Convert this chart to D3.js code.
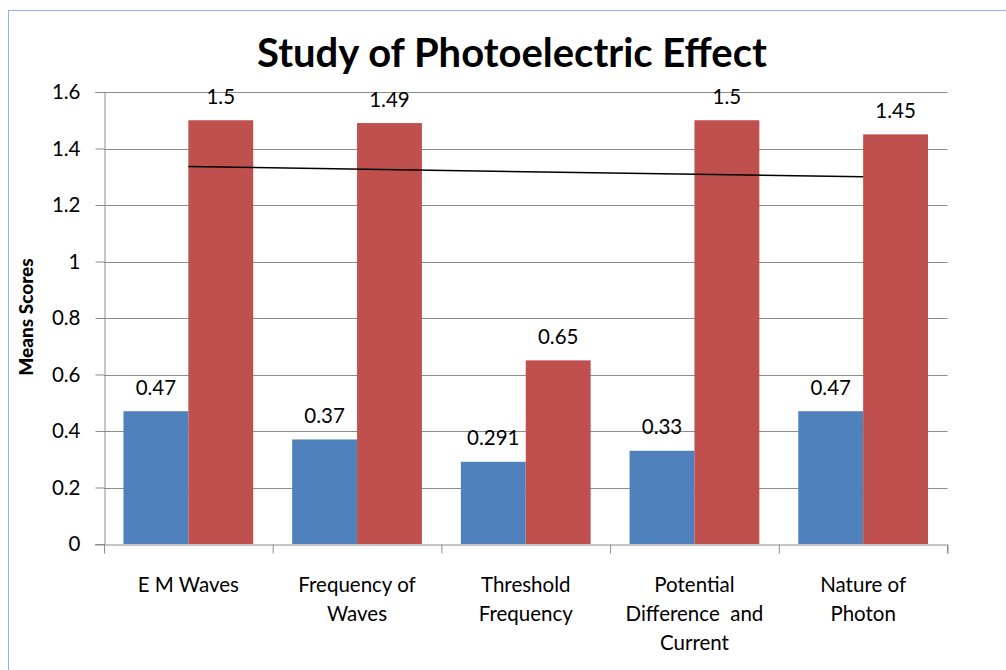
<!DOCTYPE html>
<html>
<head>
<meta charset="utf-8">
<script src="https://cdn.jsdelivr.net/npm/d3@7"></script>
<style>
  html, body { margin: 0; padding: 0; background: #fff; }
  svg { display: block; }
  text { font-family: Lato, "Open Sans", sans-serif; fill: #000; }
</style>
</head>
<body>
<svg id="chart" width="1006" height="670"></svg>
<script>
const title = "Study of Photoelectric Effect";
const yLabel = "Means Scores";
const categories = ["E M Waves", "Frequency of Waves", "Threshold Frequency", "Potential Difference and Current", "Nature of Photon"];
const categoryLines = [["E M Waves"], ["Frequency of", "Waves"], ["Threshold", "Frequency"], ["Potential", "Difference  and", "Current"], ["Nature of", "Photon"]];
const seriesNames = ["Blue", "Red"];
const blueValues = [0.47, 0.37, 0.291, 0.33, 0.47];
const redValues = [1.5, 1.49, 0.65, 1.5, 1.45];
const blueLabels = ["0.47", "0.37", "0.291", "0.33", "0.47"];
const redLabels = ["1.5", "1.49", "0.65", "1.5", "1.45"];
const yTicks = [0, 0.2, 0.4, 0.6, 0.8, 1, 1.2, 1.4, 1.6];
const yTickLabels = ["0", "0.2", "0.4", "0.6", "0.8", "1", "1.2", "1.4", "1.6"];

const colors = { Blue: "#4F81BD", Red: "#C0504D" };
const gridColor = "#8c8c8c";
const fs = 20.5;

const svg = d3.select("#chart");

// outer border
svg.append("rect")
  .attr("x", 8.5).attr("y", 10.5).attr("width", 1100).attr("height", 1000)
  .attr("fill", "none").attr("stroke", "#8EB4E3").attr("stroke-width", 1);

const plot = { left: 104, right: 947.5, top: 92, bottom: 544 };

const y = d3.scaleLinear().domain([0, 1.6]).range([plot.bottom, plot.top]);
const x0 = d3.scaleBand().domain(categories).range([plot.left, plot.right]);
const x1 = d3.scaleBand().domain(seriesNames).range([0, x0.bandwidth()]).paddingOuter(0.3).paddingInner(0);
const xb = d3.scaleLinear().domain([0, categories.length]).range([plot.left, plot.right]);

// gridlines
svg.append("g").selectAll("line")
  .data(yTicks.filter(d => d > 0))
  .join("line")
  .attr("x1", plot.left).attr("x2", plot.right)
  .attr("y1", d => Math.round(y(d)) + 0.5).attr("y2", d => Math.round(y(d)) + 0.5)
  .attr("stroke", gridColor).attr("stroke-width", 1);

// y axis
const yAxis = svg.append("g")
  .attr("transform", `translate(${plot.left + 0.5},0)`)
  .call(d3.axisLeft(y).tickValues(yTicks).tickSize(9).tickPadding(15)
    .tickFormat((d, i) => yTickLabels[i]));
yAxis.select(".domain").attr("stroke", gridColor);
yAxis.selectAll(".tick line").attr("stroke", gridColor);
yAxis.selectAll(".tick text").attr("font-size", fs).attr("font-family", "Lato, sans-serif").attr("fill", "#000");

// bars
const groups = svg.append("g").selectAll("g")
  .data(categories)
  .join("g")
  .attr("transform", d => `translate(${x0(d)},0)`);

groups.append("rect")
  .attr("x", x1("Blue")).attr("width", x1.bandwidth())
  .attr("y", (d, i) => y(blueValues[i]))
  .attr("height", (d, i) => y(0) - y(blueValues[i]))
  .attr("fill", colors.Blue);

groups.append("rect")
  .attr("x", x1("Red")).attr("width", x1.bandwidth())
  .attr("y", (d, i) => y(redValues[i]))
  .attr("height", (d, i) => y(0) - y(redValues[i]))
  .attr("fill", colors.Red);

// value labels
groups.append("text")
  .attr("x", x1("Blue") + x1.bandwidth() / 2)
  .attr("y", (d, i) => y(blueValues[i]) - 16.5)
  .attr("text-anchor", "middle").attr("font-size", fs)
  .text((d, i) => blueLabels[i]);

groups.append("text")
  .attr("x", x1("Red") + x1.bandwidth() / 2)
  .attr("y", (d, i) => y(redValues[i]) - 16.5)
  .attr("text-anchor", "middle").attr("font-size", fs)
  .text((d, i) => redLabels[i]);

// x axis
const xAxis = svg.append("g")
  .attr("transform", `translate(0,${plot.bottom + 0.5})`)
  .call(d3.axisBottom(xb).tickValues(d3.range(categories.length + 1)).tickSize(9).tickFormat(""));
xAxis.select(".domain").attr("stroke", gridColor).attr("d", `M${plot.left - 9},0.5H${plot.right}V9`);
xAxis.selectAll(".tick line").attr("stroke", gridColor);

// category labels
const catG = svg.append("g").selectAll("text")
  .data(categories)
  .join("text")
  .attr("text-anchor", "middle").attr("font-size", fs)
  .attr("x", d => x0(d) + x0.bandwidth() / 2)
  .attr("y", 592);
catG.each(function(d, i) {
  const t = d3.select(this);
  categoryLines[i].forEach((line, j) => {
    t.append("tspan")
      .attr("x", x0(d) + x0.bandwidth() / 2)
      .attr("y", 592 + j * 29)
      .attr("xml:space", "preserve")
      .text(line);
  });
});

// linear trendline of red series
const n = redValues.length;
const xs = d3.range(1, n + 1);
const mx = d3.mean(xs), my = d3.mean(redValues);
const slope = d3.sum(xs, (v, i) => (v - mx) * (redValues[i] - my)) / d3.sum(xs, v => (v - mx) * (v - mx));
const intercept = my - slope * mx;
const trend = [1, n].map(v => [x0(categories[v - 1]) + x0.bandwidth() / 2, y(intercept + slope * v)]);
svg.append("path")
  .attr("d", d3.line()(trend))
  .attr("stroke", "#000").attr("stroke-width", 1.5).attr("fill", "none");

// title
const tt = svg.append("text")
  .attr("x", 512).attr("y", 67)
  .attr("text-anchor", "middle").attr("font-weight", "bold").attr("font-size", 36)
  .text(title);
const tl = tt.node().getComputedTextLength();
tt.attr("font-size", 36 * 510 / tl);

// y label
const yl = svg.append("text")
  .attr("transform", "translate(33,317) rotate(-90)")
  .attr("text-anchor", "middle").attr("font-weight", "900").attr("font-size", 17)
  .text(yLabel);
const yll = yl.node().getComputedTextLength();
yl.attr("font-size", Math.min(19, 17 * 135 / yll));
</script>
</body>
</html>
